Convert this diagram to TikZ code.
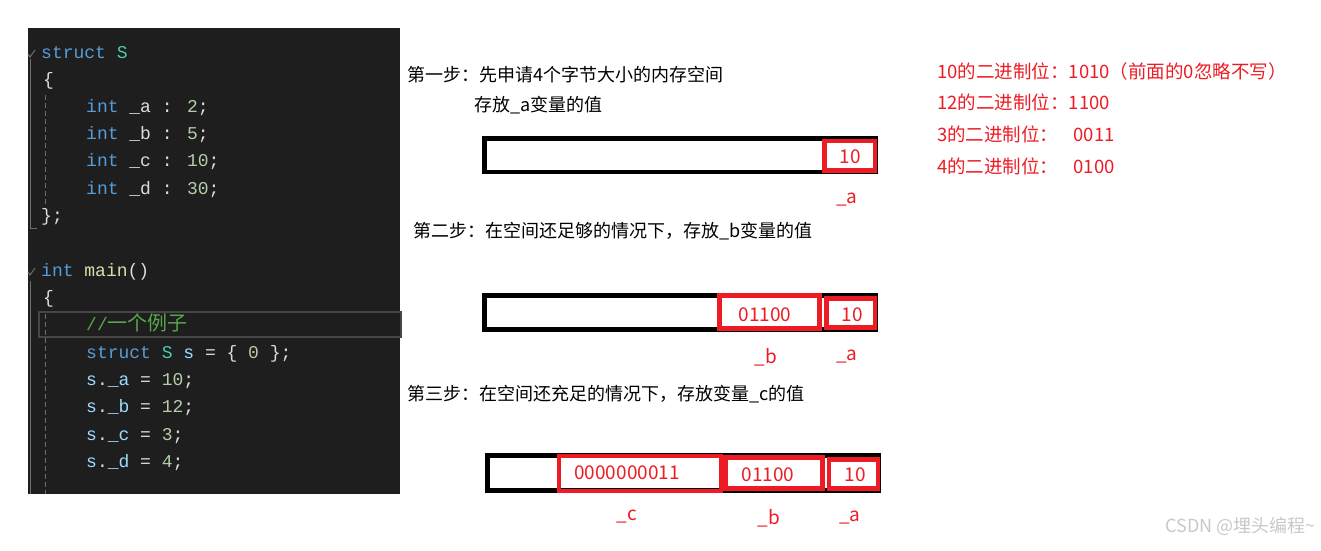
\documentclass[tikz,border=0pt]{standalone}
\usepackage{fontspec}
\setmainfont{Noto Sans CJK SC}
\newfontfamily\codefont{Liberation Mono}
\newfontfamily\cjk{Noto Sans CJK SC}
\usetikzlibrary{positioning}
\definecolor{codebg}{RGB}{30,30,30}
\definecolor{kwblue}{RGB}{86,156,214}
\definecolor{typeteal}{RGB}{78,201,176}
\definecolor{numgreen}{RGB}{181,206,168}
\definecolor{plaingray}{RGB}{220,220,220}
\definecolor{varblue}{RGB}{156,220,254}
\definecolor{fngold}{RGB}{220,220,170}
\definecolor{cmtgreen}{RGB}{87,166,74}
\definecolor{guidegray}{RGB}{110,110,110}
\definecolor{hlgray}{RGB}{70,70,70}
\definecolor{markred}{RGB}{237,28,36}
\definecolor{wmgray}{RGB}{200,200,200}
\tikzset{
  code/.style   ={font=\codefont\fontsize{18}{18}\selectfont, anchor=base west, inner sep=0pt, text=plaingray},
  steptxt/.style={font=\fontsize{18}{18}\selectfont, anchor=west, inner sep=0pt, text=black},
  bintxt/.style ={font=\fontsize{18.5}{18}\selectfont, anchor=west, inner sep=0pt, text=markred},
  memlab/.style ={font=\fontsize{19}{19}\selectfont, inner sep=0pt, text=markred},
  membox/.style ={draw=black, line width=4.5pt},
  fieldbox/.style={draw=markred, line width=4.5pt},
  guide/.style  ={draw=guidegray, line width=1pt},
}

\begin{document}
\begin{tikzpicture}[x=1pt,y=-1pt]
  \useasboundingbox (0,0) rectangle (1321,550);
  % code panel
  \fill[codebg] (28,28) rectangle (400,494);
  \draw[hlgray, line width=2pt] (39,312) rectangle (401,337);
  \draw[guide] (28,54) -- (30,57) -- (35,50);
  \draw[guide] (28,272) -- (30,275) -- (35,268);
  \draw[guide] (30.5,59) -- (30.5,228) -- (37,228);
  \draw[guide] (30.5,281) -- (30.5,494);
  \draw[guide, dash pattern=on 5pt off 3pt] (45,95) -- (45,205);
  \draw[guide, dash pattern=on 5pt off 3pt] (45,314) -- (45,494);
  \node[code] (c1) at (41,58) {\textcolor{kwblue}{struct} \textcolor{typeteal}{S}};
  \node[code] (c2) at (43,85) {\{};
  \node[code] (c3) at (86,112) {\textcolor{kwblue}{int} \_a : \textcolor{numgreen}{2};};
  \node[code] (c4) at (86,139) {\textcolor{kwblue}{int} \_b : \textcolor{numgreen}{5};};
  \node[code] (c5) at (86,166) {\textcolor{kwblue}{int} \_c : \textcolor{numgreen}{10};};
  \node[code] (c6) at (86,194) {\textcolor{kwblue}{int} \_d : \textcolor{numgreen}{30};};
  \node[code] (c7) at (41,221) {\};};
  \node[code] (c8) at (41,276) {\textcolor{kwblue}{int} \textcolor{fngold}{main}()};
  \node[code] (c9) at (43,303) {\{};
  \node[code, text=cmtgreen] (c10) at (86,330) {//{\cjk\fontsize{20}{20}\selectfont 一个例子}};
  \node[code] (c11) at (86,358) {\textcolor{kwblue}{struct} \textcolor{typeteal}{S} \textcolor{varblue}{s} = \{ \textcolor{numgreen}{0} \};};
  \node[code] (c12) at (86,385) {\textcolor{varblue}{s}.\textcolor{varblue}{\_a} = \textcolor{numgreen}{10};};
  \node[code] (c13) at (86,412) {\textcolor{varblue}{s}.\textcolor{varblue}{\_b} = \textcolor{numgreen}{12};};
  \node[code] (c14) at (86,440) {\textcolor{varblue}{s}.\textcolor{varblue}{\_c} = \textcolor{numgreen}{3};};
  \node[code] (c15) at (86,467) {\textcolor{varblue}{s}.\textcolor{varblue}{\_d} = \textcolor{numgreen}{4};};
  % step 1
  \node[steptxt] (s1) at (407,75) {第一步：先申请4个字节大小的内存空间};
  \node[steptxt] (s1b) at (474,105) {存放\_a变量的值};
  \draw[membox] (484.5,138.5) rectangle (876,172);
  \draw[fieldbox] (824.5,141) rectangle (875,170.5);
  \node[memlab] (v1a) at (850,157) {10};
  \node[memlab] (l1a) at (847,200) {\_a};
  % step 2
  \node[steptxt] (s2) at (413,231) {第二步：在空间还足够的情况下，存放\_b变量的值};
  \draw[membox] (484.5,295.5) rectangle (875.5,329.5);
  \draw[fieldbox] (719.5,295.5) rectangle (819.5,328.5);
  \draw[fieldbox] (826.5,298.5) rectangle (875,327.5);
  \node[memlab] (v2b) at (765,315) {01100};
  \node[memlab] (v2a) at (852,315) {10};
  \node[memlab] (l2b) at (766,357) {\_b};
  \node[memlab] (l2a) at (847,357) {\_a};
  % step 3
  \node[steptxt] (s3) at (407,394) {第三步：在空间还充足的情况下，存放变量\_c的值};
  \draw[membox] (487.5,455.5) rectangle (878.5,490.5);
  \draw[fieldbox] (559,456) rectangle (721,491);
  \draw[fieldbox] (725.5,457.5) rectangle (822.5,488.5);
  \draw[fieldbox] (829,459.5) rectangle (878,488.5);
  \node[memlab] (v3c) at (627,473) {0000000011};
  \node[memlab] (v3b) at (768,475) {01100};
  \node[memlab] (v3a) at (855,475) {10};
  \node[memlab] (l3c) at (627,517) {\_c};
  \node[memlab] (l3b) at (769,518) {\_b};
  \node[memlab] (l3a) at (850,518) {\_a};
  % binary notes
  \node[bintxt] (b1) at (937,71) {10的二进制位：1010（前面的0忽略不写）};
  \node[bintxt] (b2) at (937,102) {12的二进制位：1100};
  \node[bintxt] (b3) at (937,134) {3的二进制位：\hspace{15pt}0011};
  \node[bintxt] (b4) at (937,166) {4的二进制位：\hspace{15pt}0100};
  % watermark
  \node[font=\fontsize{18}{18}\selectfont, text=wmgray, anchor=east, inner sep=0pt] (wm) at (1316,526) {CSDN @埋头编程\textasciitilde};
\end{tikzpicture}
\end{document}
